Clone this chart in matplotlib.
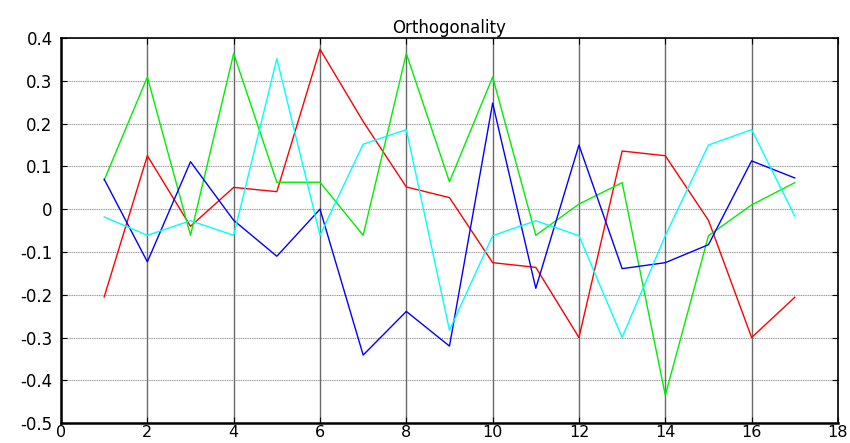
import numpy as np
import matplotlib
matplotlib.use('Agg')
import matplotlib.pyplot as plt

# x positions
idx = np.arange(1, 18)

# series
red = [-0.205, 0.125, -0.040, 0.051, 0.041, 0.374, 0.205, 0.052, 0.027,
       -0.125, -0.136, -0.300, 0.136, 0.125, -0.026, -0.300, -0.206]
green = [0.068, 0.309, -0.061, 0.364, 0.063, 0.063, -0.061, 0.364, 0.064,
         0.309, -0.061, 0.012, 0.062, -0.435, -0.062, 0.010, 0.062]
blue = [0.070, -0.123, 0.111, -0.026, -0.110, 0.000, -0.341, -0.239, -0.320,
        0.248, -0.185, 0.150, -0.139, -0.125, -0.083, 0.113, 0.073]
cyan = [-0.018, -0.061, -0.027, -0.061, 0.352, -0.061, 0.152, 0.186, -0.283,
        -0.062, -0.027, -0.062, -0.300, -0.062, 0.150, 0.186, -0.016]

xticks = np.arange(0, 19, 2)
yticks = np.round(np.arange(-0.5, 0.41, 0.1), 1)

plt.rcParams['font.family'] = ['DejaVu Sans']

fig = plt.figure(figsize=(8.5, 4.43), dpi=100)
ax = fig.add_axes([0.0718, 0.045, 0.914, 0.869])

# grid
for yv in yticks:
    ax.axhline(yv, color='#999999', lw=0.8, ls=(0, (1, 0.6)), zorder=0)
for xv in xticks:
    ax.axvline(xv, color='#6a6a6a', lw=1.0, zorder=0)

ax.plot(idx, red, color='#ff0000', lw=1.0)
ax.plot(idx, green, color='#00ee00', lw=1.0)
ax.plot(idx, blue, color='#0000ff', lw=1.0)
ax.plot(idx, cyan, color='#00ffff', lw=1.0)

ax.set_xlim(0, 18)
ax.set_ylim(-0.5, 0.4)
ax.set_xticks(xticks)
ax.set_yticks(yticks)
ax.set_xticklabels([str(v) for v in xticks])
ax.set_yticklabels(['0' if v == 0 else '%.1f' % v for v in yticks])
ax.tick_params(direction='in', top=True, right=True, labelsize=12, length=4)
ax.tick_params(axis='y', pad=6)
ax.tick_params(axis='x', pad=1.5, labelsize=11.5)
for s in ['left', 'bottom']:
    ax.spines[s].set_linewidth(1.8)
for s in ['top', 'right']:
    ax.spines[s].set_linewidth(1.2)

ax.set_title('Orthogonality', fontsize=12, pad=4)

plt.savefig('out.png', dpi=100)
